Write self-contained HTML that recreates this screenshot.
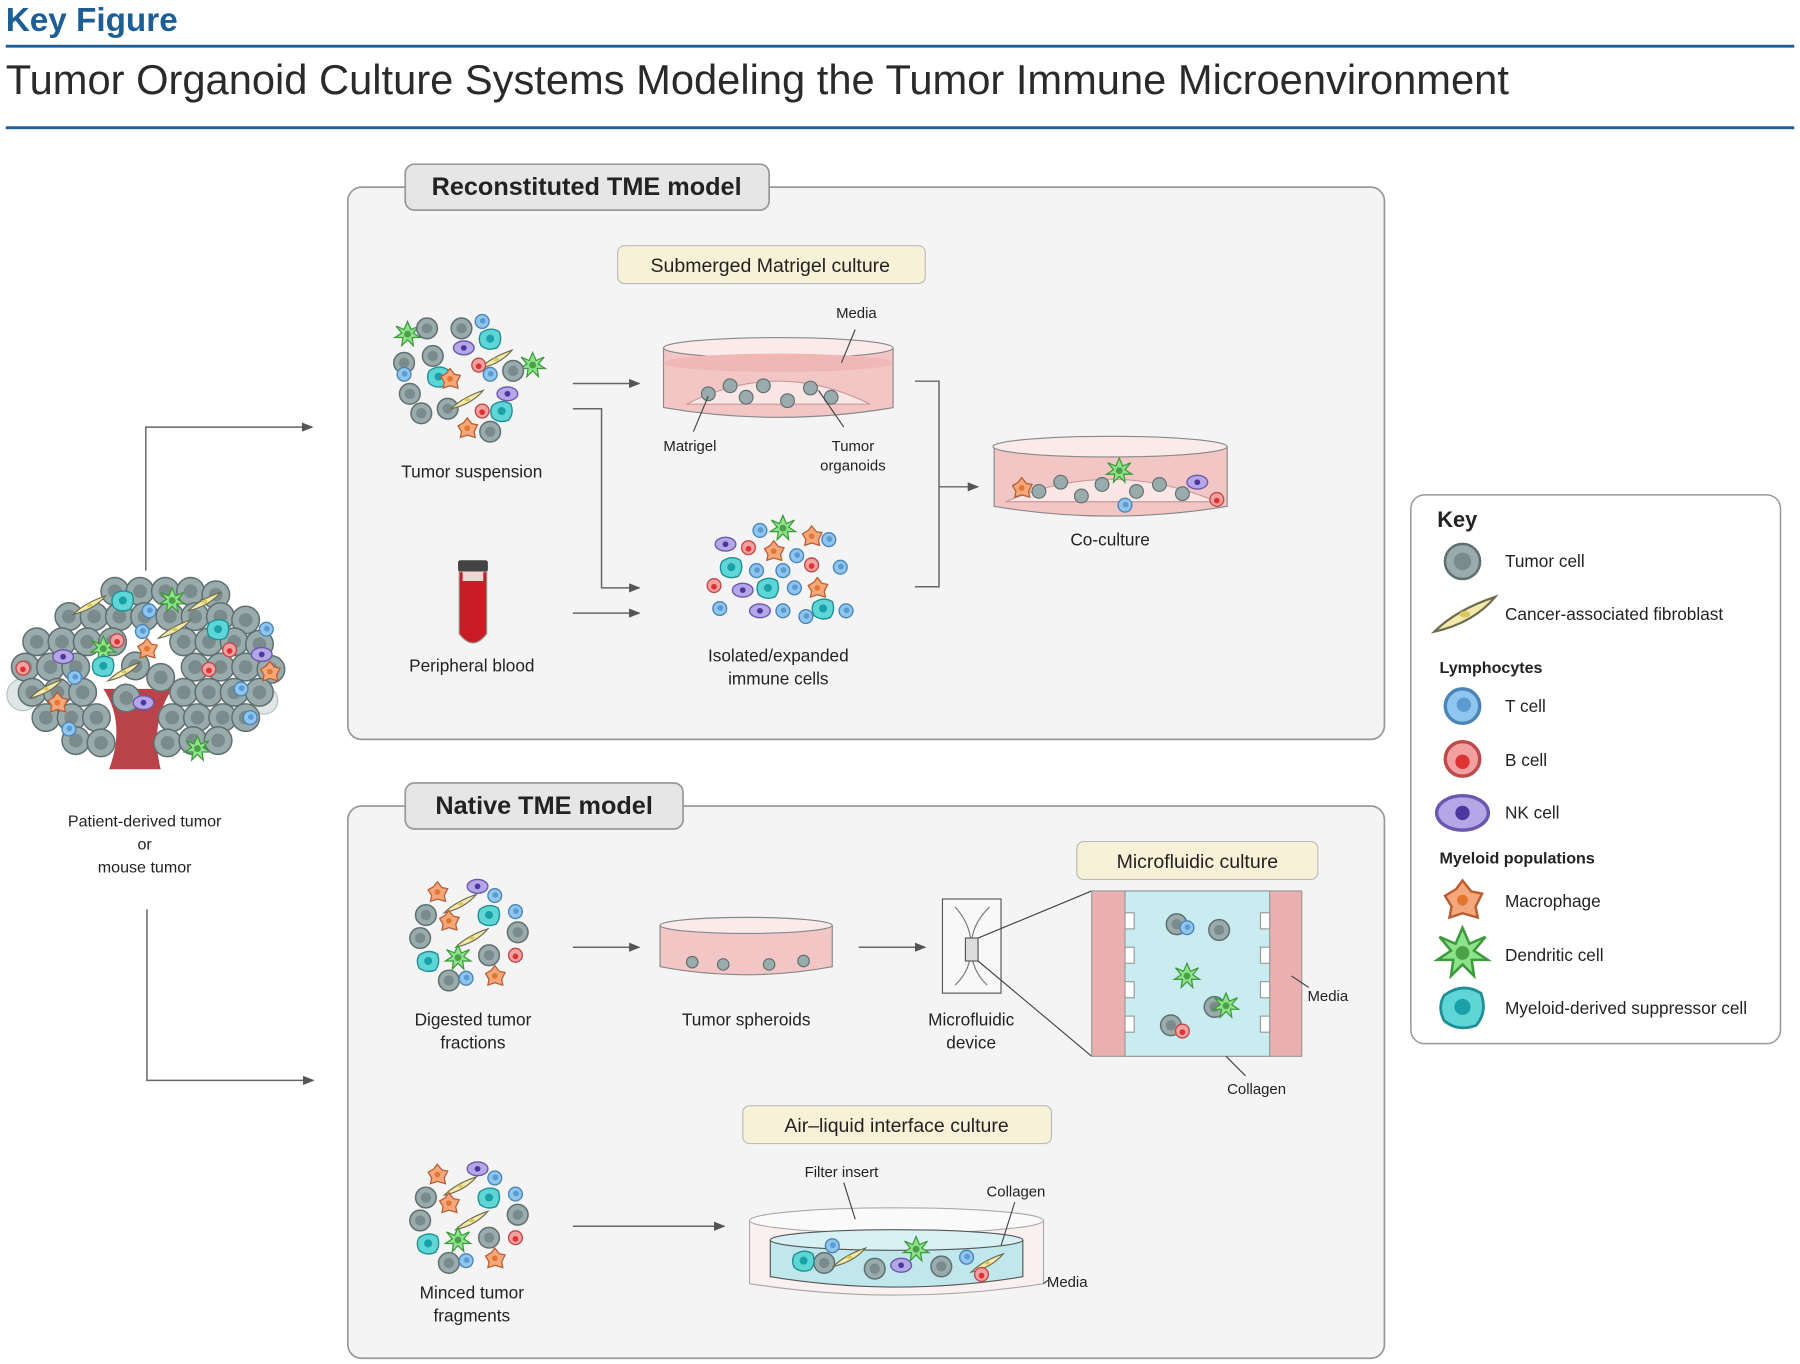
<!DOCTYPE html>
<html><head><meta charset="utf-8"><style>
html,body{margin:0;padding:0;background:#fff;}
svg{display:block;font-family:"Liberation Sans",sans-serif;}
</style></head><body>
<svg width="1800" height="1364" viewBox="0 0 1568 1188" preserveAspectRatio="none" xmlns="http://www.w3.org/2000/svg">
<defs>
<marker id="ar" markerWidth="10" markerHeight="8" refX="9" refY="4" orient="auto" markerUnits="userSpaceOnUse"><path d="M0,0 L10,4 L0,8 z" fill="#555"/></marker>
<g id="tc"><circle r="9" fill="#9aabab" stroke="#5f6f70" stroke-width="1.3"/><circle r="4.5" fill="#7b8b8c"/></g>
<g id="tb"><circle r="12" fill="#9aabab" stroke="#5f6f70" stroke-width="1.3"/><circle r="6" fill="#7b8b8c"/></g>
<g id="tt"><circle r="6" fill="#8fc6ee" stroke="#4b84b8" stroke-width="1.2"/><circle r="2.5" cx="0.5" cy="-0.5" fill="#5c9bd2"/></g>
<g id="bc"><circle r="6" fill="#f3a0a0" stroke="#c04a4a" stroke-width="1.2"/><circle r="2.5" cy="1" fill="#d33"/></g>
<g id="nk"><ellipse rx="9" ry="6" fill="#b5a6e6" stroke="#6a58b0" stroke-width="1.2"/><circle r="2.5" fill="#4a37a0"/></g>
<g id="mp"><path d="M-8,-2 L-3,-5 L0,-9 L4,-4 L9,-3 L6,3 L7,8 L0,6 L-6,8 L-5,3z" fill="#f5a77c" stroke="#b85c30" stroke-width="1.1"/><circle r="2.5" fill="#e27830"/></g>
<g id="dc"><path d="M0,-11 L3,-4 L10,-7 L5,-1 L11,3 L4,3 L5,10 L0,5 L-5,10 L-4,3 L-11,3 L-5,-1 L-10,-7 L-3,-4z" fill="#8ee28c" stroke="#3c9a3a" stroke-width="1.1"/><circle r="3" fill="#4aa148"/></g>
<g id="md"><path d="M-8,-5 Q0,-11 8,-6 Q11,2 6,8 Q-2,11 -8,6 Q-11,0 -8,-5z" fill="#5fd6d6" stroke="#1f8f95" stroke-width="1.2"/><circle r="3.5" fill="#1aa0a8"/></g>
<g id="fb"><path d="M-14,8 Q-4,-2 14,-8 Q4,4 -14,8z" fill="#f5e9a8" stroke="#6b6a50" stroke-width="1"/><ellipse rx="2.5" ry="1.5" fill="#d9c860"/></g>
<g id="clA">
<use href="#dc" x="-57" y="-37"/><use href="#tc" x="-40" y="-42"/><use href="#tc" x="-10" y="-42"/><use href="#tt" x="8" y="-48"/><use href="#md" x="15" y="-33"/><use href="#dc" x="52" y="-10"/>
<use href="#tc" x="-60" y="-12"/><use href="#nk" x="-8" y="-25"/><use href="#fb" x="20" y="-15"/><use href="#tc" x="-35" y="-18"/><use href="#bc" x="5" y="-10"/><use href="#md" x="-30" y="0"/>
<use href="#tc" x="-55" y="15"/><use href="#mp" x="-20" y="2"/><use href="#tt" x="15" y="-2"/><use href="#tc" x="35" y="-5"/><use href="#nk" x="30" y="15"/><use href="#tc" x="-45" y="32"/>
<use href="#tc" x="-22" y="28"/><use href="#fb" x="-5" y="20"/><use href="#bc" x="8" y="30"/><use href="#md" x="25" y="30"/><use href="#mp" x="-5" y="45"/><use href="#tc" x="15" y="48"/><use href="#tt" x="-60" y="-2"/>
</g>
<g id="clB">
<use href="#dc" x="5" y="-42"/><use href="#tt" x="-15" y="-40"/><use href="#tt" x="45" y="-32"/><use href="#mp" x="30" y="-35"/><use href="#nk" x="-45" y="-28"/><use href="#bc" x="-25" y="-25"/><use href="#mp" x="-3" y="-22"/><use href="#tt" x="17" y="-18"/>
<use href="#md" x="-40" y="-8"/><use href="#tt" x="-18" y="-5"/><use href="#tt" x="5" y="-5"/><use href="#bc" x="30" y="-10"/><use href="#tt" x="55" y="-8"/><use href="#bc" x="-55" y="8"/><use href="#nk" x="-30" y="12"/><use href="#md" x="-8" y="10"/>
<use href="#tt" x="15" y="10"/><use href="#mp" x="35" y="10"/><use href="#tt" x="-50" y="28"/><use href="#nk" x="-15" y="30"/><use href="#tt" x="5" y="30"/><use href="#md" x="40" y="28"/><use href="#tt" x="25" y="35"/><use href="#tt" x="60" y="30"/>
</g>
<g id="clC">
<use href="#mp" x="-30" y="-35"/><use href="#nk" x="5" y="-40"/><use href="#tt" x="20" y="-32"/><use href="#fb" x="-10" y="-25"/><use href="#tc" x="-40" y="-15"/><use href="#md" x="15" y="-15"/><use href="#tt" x="38" y="-18"/>
<use href="#mp" x="-20" y="-10"/><use href="#tc" x="40" y="0"/><use href="#tc" x="-45" y="5"/><use href="#fb" x="0" y="5"/><use href="#dc" x="-12" y="22"/><use href="#md" x="-38" y="25"/><use href="#tc" x="15" y="20"/><use href="#mp" x="20" y="38"/><use href="#tc" x="-20" y="42"/><use href="#bc" x="38" y="20"/><use href="#tt" x="-5" y="40"/>
</g>
</defs>

<!-- header -->
<text x="5" y="27" font-size="29" font-weight="bold" fill="#1d5f95">Key Figure</text>
<rect x="5" y="39" width="1558" height="2.5" fill="#1d5f95"/>
<text x="5" y="82" font-size="36.3" fill="#2a2a2a">Tumor Organoid Culture Systems Modeling the Tumor Immune Microenvironment</text>
<rect x="5" y="110" width="1558" height="2.5" fill="#1d5f95"/>

<!-- panels -->
<rect x="303" y="163" width="903" height="481" rx="12" fill="#f4f4f4" stroke="#999" stroke-width="1.5"/>
<rect x="353" y="143" width="317" height="40" rx="8" fill="#e6e6e6" stroke="#999" stroke-width="1.5"/>
<text x="511" y="170" font-size="22" font-weight="bold" text-anchor="middle" fill="#222">Reconstituted TME model</text>
<rect x="538" y="214" width="268" height="33" rx="6" fill="#f7f1d8" stroke="#bbb"/>
<text x="671" y="237" font-size="17" text-anchor="middle" fill="#222">Submerged Matrigel culture</text>

<rect x="303" y="702" width="903" height="481" rx="12" fill="#f4f4f4" stroke="#999" stroke-width="1.5"/>
<rect x="353" y="682" width="242" height="40" rx="8" fill="#e6e6e6" stroke="#999" stroke-width="1.5"/>
<text x="474" y="709" font-size="22" font-weight="bold" text-anchor="middle" fill="#222">Native TME model</text>
<rect x="938" y="733" width="210" height="33" rx="6" fill="#f7f1d8" stroke="#bbb"/>
<text x="1043" y="756" font-size="17" text-anchor="middle" fill="#222">Microfluidic culture</text>
<rect x="647" y="963" width="269" height="33" rx="6" fill="#f7f1d8" stroke="#bbb"/>
<text x="781" y="986" font-size="17" text-anchor="middle" fill="#222">Air–liquid interface culture</text>

<!-- tumor -->
<path d="M95,670 Q110,630 90,600 L150,600 Q130,630 140,670z" fill="#b8444a"/>
<g>
<circle cx="20" cy="605" r="14" fill="#dfe6e6" stroke="#b5c0c0"/><circle cx="230" cy="610" r="12" fill="#dfe6e6" stroke="#b5c0c0"/>
<use href="#tb" x="100" y="515"/><use href="#tb" x="122" y="515"/><use href="#tb" x="144" y="515"/><use href="#tb" x="166" y="515"/><use href="#tb" x="188" y="518"/>
<use href="#tb" x="60" y="537"/><use href="#tb" x="82" y="537"/><use href="#tb" x="104" y="537"/><use href="#tb" x="126" y="537"/><use href="#tb" x="148" y="537"/><use href="#tb" x="170" y="537"/><use href="#tb" x="192" y="537"/><use href="#tb" x="214" y="540"/>
<use href="#tb" x="32" y="559"/><use href="#tb" x="54" y="559"/><use href="#tb" x="76" y="559"/><use href="#tb" x="98" y="559"/><use href="#tb" x="160" y="559"/><use href="#tb" x="182" y="559"/><use href="#tb" x="204" y="559"/><use href="#tb" x="226" y="561"/>
<use href="#tb" x="22" y="581"/><use href="#tb" x="44" y="581"/><use href="#tb" x="66" y="581"/><use href="#tb" x="170" y="581"/><use href="#tb" x="192" y="581"/><use href="#tb" x="214" y="581"/><use href="#tb" x="236" y="583"/>
<use href="#tb" x="28" y="603"/><use href="#tb" x="50" y="603"/><use href="#tb" x="72" y="603"/><use href="#tb" x="160" y="603"/><use href="#tb" x="182" y="603"/><use href="#tb" x="204" y="603"/><use href="#tb" x="226" y="603"/>
<use href="#tb" x="40" y="625"/><use href="#tb" x="62" y="625"/><use href="#tb" x="84" y="625"/><use href="#tb" x="150" y="625"/><use href="#tb" x="172" y="625"/><use href="#tb" x="194" y="625"/><use href="#tb" x="214" y="625"/>
<use href="#tb" x="66" y="645"/><use href="#tb" x="88" y="647"/><use href="#tb" x="146" y="647"/><use href="#tb" x="168" y="645"/><use href="#tb" x="190" y="645"/>
<use href="#tb" x="118" y="580"/><use href="#tb" x="140" y="590"/><use href="#tb" x="110" y="608"/>
<use href="#fb" x="78" y="527"/><use href="#fb" x="178" y="524"/><use href="#fb" x="152" y="548"/><use href="#fb" x="40" y="600"/><use href="#fb" x="108" y="585"/>
<use href="#dc" x="150" y="523"/><use href="#dc" x="90" y="565"/><use href="#dc" x="172" y="652"/>
<use href="#md" x="107" y="523"/><use href="#md" x="190" y="548"/><use href="#md" x="90" y="580"/>
<use href="#tt" x="130" y="532"/><use href="#tt" x="124" y="550"/><use href="#tt" x="65" y="590"/><use href="#tt" x="210" y="600"/><use href="#tt" x="232" y="548"/><use href="#tt" x="218" y="625"/><use href="#tt" x="60" y="635"/>
<use href="#bc" x="102" y="558"/><use href="#bc" x="182" y="583"/><use href="#bc" x="200" y="566"/><use href="#bc" x="20" y="582"/>
<use href="#nk" x="55" y="572"/><use href="#nk" x="228" y="570"/><use href="#nk" x="125" y="612"/>
<use href="#mp" x="128" y="565"/><use href="#mp" x="235" y="585"/><use href="#mp" x="50" y="612"/>
</g>
<text x="126" y="720" font-size="14" text-anchor="middle" fill="#222">Patient-derived tumor</text>
<text x="126" y="740" font-size="14" text-anchor="middle" fill="#222">or</text>
<text x="126" y="760" font-size="14" text-anchor="middle" fill="#222">mouse tumor</text>
<g stroke="#666" stroke-width="1.3" fill="none">
<path d="M127,497 V372 H272" marker-end="url(#ar)"/>
<path d="M128,792 V941 H273" marker-end="url(#ar)"/>
</g>

<!-- reconstituted contents -->
<use href="#clA" x="412" y="328"/>
<text x="411" y="416" font-size="15" text-anchor="middle" fill="#222">Tumor suspension</text>
<rect x="399" y="488" width="26" height="10" rx="2" fill="#444"/>
<path d="M400,498 H424 V552 Q412,568 400,552z" fill="#c81d25" stroke="#999"/>
<path d="M403,498 H421 V506 H403z" fill="#f2d4d4"/>
<text x="411" y="585" font-size="15" text-anchor="middle" fill="#222">Peripheral blood</text>
<g stroke="#666" stroke-width="1.3" fill="none">
<path d="M499,334 H557" marker-end="url(#ar)"/>
<path d="M499,356 H524 V512 H557" marker-end="url(#ar)"/>
<path d="M499,534 H557" marker-end="url(#ar)"/>
<path d="M797,332 H818 V511 H797"/>
<path d="M818,424 H852" marker-end="url(#ar)"/>
</g>
<!-- dish 1 -->
<path d="M578,303 V355 Q678,372 778,355 V303" fill="#f3c6c6" stroke="#888"/>
<ellipse cx="678" cy="303" rx="100" ry="9" fill="#fbeaea" stroke="#888"/>
<ellipse cx="678" cy="316" rx="100" ry="8" fill="#f0b7b7" stroke="none"/>
<path d="M598,352 Q678,312 758,352z" fill="#fbe6e6" stroke="#c99"/>
<g fill="#9aabab" stroke="#5f6f70"><circle cx="617" cy="343" r="6"/><circle cx="650" cy="346" r="6"/><circle cx="636" cy="336" r="6"/><circle cx="686" cy="349" r="6"/><circle cx="665" cy="336" r="6"/><circle cx="706" cy="338" r="6"/><circle cx="724" cy="346" r="6"/></g>
<g stroke="#444" fill="none"><path d="M745,287 L733,316"/><path d="M617,345 L604,376"/><path d="M713,340 L735,372"/></g>
<text x="746" y="277" font-size="13" text-anchor="middle" fill="#222">Media</text>
<text x="601" y="393" font-size="13" text-anchor="middle" fill="#222">Matrigel</text>
<text x="743" y="393" font-size="13" text-anchor="middle" fill="#222">Tumor</text>
<text x="743" y="410" font-size="13" text-anchor="middle" fill="#222">organoids</text>
<use href="#clB" x="677" y="502"/>
<text x="678" y="576" font-size="15" text-anchor="middle" fill="#222">Isolated/expanded</text>
<text x="678" y="596" font-size="15" text-anchor="middle" fill="#222">immune cells</text>
<!-- co-culture dish -->
<path d="M866,389 V441 Q967,458 1069,441 V389" fill="#f3c6c6" stroke="#888"/>
<ellipse cx="967" cy="389" rx="102" ry="9" fill="#fbeaea" stroke="#888"/>
<path d="M876,437 Q967,398 1060,437z" fill="#fbe6e6" stroke="#c99"/>
<g fill="#9aabab" stroke="#5f6f70"><circle cx="905" cy="428" r="6"/><circle cx="924" cy="420" r="6"/><circle cx="942" cy="432" r="6"/><circle cx="960" cy="422" r="6"/><circle cx="990" cy="428" r="6"/><circle cx="1010" cy="422" r="6"/><circle cx="1030" cy="430" r="6"/></g>
<use href="#tt" x="980" y="440"/><use href="#dc" x="975" y="410"/><use href="#nk" x="1043" y="420"/><use href="#bc" x="1060" y="435"/><use href="#mp" x="890" y="425"/>
<text x="967" y="475" font-size="15" text-anchor="middle" fill="#222">Co-culture</text>

<!-- native -->
<use href="#clC" x="411" y="812"/>
<text x="412" y="893" font-size="15" text-anchor="middle" fill="#222">Digested tumor</text>
<text x="412" y="913" font-size="15" text-anchor="middle" fill="#222">fractions</text>
<g stroke="#666" stroke-width="1.3" fill="none">
<path d="M499,825 H557" marker-end="url(#ar)"/>
<path d="M748,825 H806" marker-end="url(#ar)"/>
<path d="M499,1068 H631" marker-end="url(#ar)"/>
</g>
<path d="M575,806 V842 Q650,856 725,842 V806" fill="#f3c6c6" stroke="#888"/>
<ellipse cx="650" cy="806" rx="75" ry="7" fill="#fbeaea" stroke="#888"/>
<g fill="#9aabab" stroke="#5f6f70"><circle cx="603" cy="838" r="5"/><circle cx="630" cy="840" r="5"/><circle cx="670" cy="840" r="5"/><circle cx="700" cy="837" r="5"/></g>
<text x="650" y="893" font-size="15" text-anchor="middle" fill="#222">Tumor spheroids</text>
<rect x="821" y="783" width="51" height="82" fill="#f8f8f8" stroke="#555"/>
<path d="M832,790 Q846,805 846,825 Q846,845 860,858 M862,790 Q846,805 846,825 Q846,845 832,858" stroke="#777" fill="none"/>
<rect x="841" y="817" width="11" height="20" fill="#ddd" stroke="#555"/>
<g stroke="#444" fill="none"><path d="M852,817 L951,776 M852,837 L951,920"/></g>
<text x="846" y="893" font-size="15" text-anchor="middle" fill="#222">Microfluidic</text>
<text x="846" y="913" font-size="15" text-anchor="middle" fill="#222">device</text>
<rect x="951" y="776" width="183" height="144" fill="#eab0b0" stroke="#999"/>
<rect x="980" y="776" width="126" height="144" fill="#c8ecf0" stroke="#999"/>
<g fill="#fff" stroke="#999"><rect x="980" y="795" width="8" height="14"/><rect x="980" y="825" width="8" height="14"/><rect x="980" y="855" width="8" height="14"/><rect x="980" y="885" width="8" height="14"/><rect x="1098" y="795" width="8" height="14"/><rect x="1098" y="825" width="8" height="14"/><rect x="1098" y="855" width="8" height="14"/><rect x="1098" y="885" width="8" height="14"/></g>
<use href="#tc" x="1025" y="805"/><use href="#tc" x="1062" y="810"/><use href="#tt" x="1034" y="808"/><use href="#dc" x="1034" y="850"/><use href="#tc" x="1058" y="877"/><use href="#dc" x="1068" y="876"/><use href="#tc" x="1020" y="893"/><use href="#bc" x="1030" y="898"/>
<g stroke="#444" fill="none"><path d="M1125,850 L1140,860 M1068,920 L1085,937"/></g>
<text x="1139" y="872" font-size="13" fill="#222">Media</text>
<text x="1069" y="953" font-size="13" fill="#222">Collagen</text>
<use href="#clC" x="411" y="1058"/>
<text x="411" y="1131" font-size="15" text-anchor="middle" fill="#222">Minced tumor</text>
<text x="411" y="1151" font-size="15" text-anchor="middle" fill="#222">fragments</text>
<path d="M653,1063 V1118 Q781,1138 909,1118 V1063" fill="#fbf0f0" stroke="#aaa"/>
<ellipse cx="781" cy="1063" rx="128" ry="11" fill="#fafafa" stroke="#aaa"/>
<path d="M671,1080 V1112 Q781,1130 891,1112 V1080" fill="#bfe7ec" stroke="#555"/>
<ellipse cx="781" cy="1080" rx="110" ry="9" fill="#d6f0f3" stroke="#555"/>
<use href="#tc" x="718" y="1100"/><use href="#fb" x="740" y="1095"/><use href="#tc" x="762" y="1105"/><use href="#dc" x="798" y="1088"/><use href="#tc" x="820" y="1103"/><use href="#md" x="700" y="1098"/><use href="#nk" x="785" y="1102"/><use href="#tt" x="842" y="1095"/><use href="#fb" x="860" y="1100"/><use href="#tt" x="725" y="1085"/><use href="#bc" x="855" y="1110"/>
<g stroke="#444" fill="none"><path d="M735,1030 L745,1062 M884,1047 L872,1085 M909,1118 L913,1115"/></g>
<text x="733" y="1025" font-size="13" text-anchor="middle" fill="#222">Filter insert</text>
<text x="885" y="1042" font-size="13" text-anchor="middle" fill="#222">Collagen</text>
<text x="912" y="1121" font-size="13" fill="#222">Media</text>

<!-- key -->
<rect x="1229" y="431" width="322" height="478" rx="12" fill="#fff" stroke="#999" stroke-width="1.3"/>
<text x="1252" y="459" font-size="19" font-weight="bold" fill="#222">Key</text>
<g transform="translate(1274,489) scale(1.7)"><use href="#tc"/></g>
<text x="1311" y="494" font-size="15" fill="#222">Tumor cell</text>
<g transform="translate(1276,535) scale(1.9)"><use href="#fb"/></g>
<text x="1311" y="540" font-size="15" fill="#222">Cancer-associated fibroblast</text>
<text x="1254" y="586" font-size="14" font-weight="bold" fill="#222">Lymphocytes</text>
<g transform="translate(1274,615) scale(2.5)"><use href="#tt"/></g>
<text x="1311" y="620" font-size="15" fill="#222">T cell</text>
<g transform="translate(1274,661) scale(2.5)"><use href="#bc"/></g>
<text x="1311" y="667" font-size="15" fill="#222">B cell</text>
<g transform="translate(1274,708) scale(2.5)"><use href="#nk"/></g>
<text x="1311" y="713" font-size="15" fill="#222">NK cell</text>
<text x="1254" y="752" font-size="14" font-weight="bold" fill="#222">Myeloid populations</text>
<g transform="translate(1274,784) scale(1.9)"><use href="#mp"/></g>
<text x="1311" y="790" font-size="15" fill="#222">Macrophage</text>
<g transform="translate(1274,830) scale(2)"><use href="#dc"/></g>
<text x="1311" y="837" font-size="15" fill="#222">Dendritic cell</text>
<g transform="translate(1274,877) scale(2)"><use href="#md"/></g>
<text x="1311" y="883" font-size="15" fill="#222">Myeloid-derived suppressor cell</text>
</svg>
</body></html>
